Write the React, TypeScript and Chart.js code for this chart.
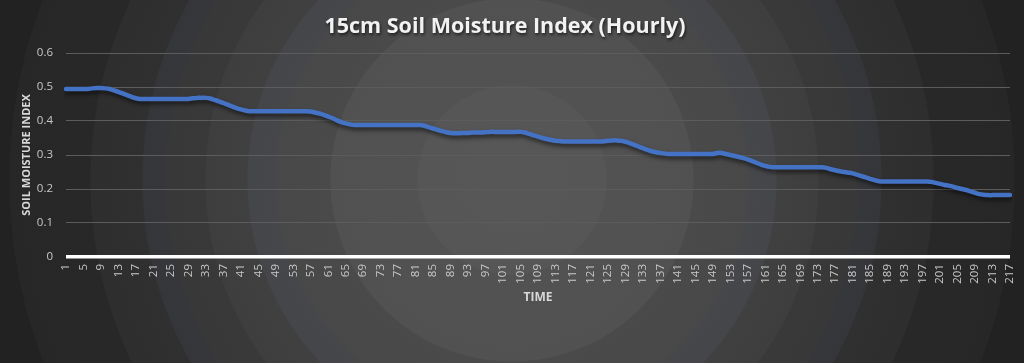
import React, { useEffect, useRef } from "react";
import { Chart, registerables } from "chart.js";

Chart.register(...registerables);

const chartTitle = "15cm Soil Moisture Index (Hourly)";
const xAxisTitle = "TIME";
const yAxisTitle = "SOIL MOISTURE INDEX";

// hourly categories 1..217
const hours: string[] = Array.from({ length: 217 }, (_, i) => String(i + 1));

// soil moisture index
const moisture: number[] = [
  0.494, 0.494, 0.494, 0.494, 0.494, 0.494, 0.496, 0.497, 0.497, 0.496,
  0.494, 0.49, 0.486, 0.481, 0.476, 0.471, 0.467, 0.465, 0.465, 0.465,
  0.465, 0.465, 0.465, 0.465, 0.465, 0.465, 0.465, 0.465, 0.465, 0.467,
  0.468, 0.468, 0.468, 0.466, 0.462, 0.458, 0.453, 0.448, 0.443, 0.438,
  0.434, 0.431, 0.429, 0.429, 0.429, 0.429, 0.429, 0.429, 0.429, 0.429,
  0.429, 0.429, 0.429, 0.429, 0.429, 0.429, 0.428, 0.425, 0.422, 0.418,
  0.413, 0.408, 0.402, 0.397, 0.393, 0.39, 0.388, 0.388, 0.388, 0.388,
  0.388, 0.388, 0.388, 0.388, 0.388, 0.388, 0.388, 0.388, 0.388, 0.388,
  0.388, 0.388, 0.386, 0.382, 0.378, 0.374, 0.37, 0.367, 0.365, 0.364,
  0.364, 0.365, 0.365, 0.366, 0.366, 0.366, 0.367, 0.368, 0.368, 0.368,
  0.368, 0.368, 0.368, 0.368, 0.368, 0.366, 0.362, 0.358, 0.354, 0.35,
  0.347, 0.344, 0.342, 0.341, 0.34, 0.34, 0.34, 0.34, 0.34, 0.34,
  0.34, 0.34, 0.34, 0.34, 0.342, 0.343, 0.343, 0.342, 0.339, 0.335,
  0.33, 0.325, 0.32, 0.315, 0.311, 0.308, 0.306, 0.304, 0.303, 0.303,
  0.303, 0.303, 0.303, 0.303, 0.303, 0.303, 0.303, 0.303, 0.303, 0.306,
  0.306, 0.303, 0.3, 0.297, 0.294, 0.291, 0.287, 0.282, 0.277, 0.272,
  0.268, 0.265, 0.264, 0.264, 0.264, 0.264, 0.264, 0.264, 0.264, 0.264,
  0.264, 0.264, 0.264, 0.264, 0.262, 0.258, 0.255, 0.252, 0.25, 0.248,
  0.246, 0.242, 0.238, 0.234, 0.23, 0.226, 0.223, 0.222, 0.222, 0.222,
  0.222, 0.222, 0.222, 0.222, 0.222, 0.222, 0.222, 0.222, 0.221, 0.218,
  0.215, 0.212, 0.21, 0.207, 0.203, 0.2, 0.197, 0.193, 0.189, 0.185,
  0.183, 0.182, 0.182, 0.182, 0.182, 0.182, 0.182,
];

const yTicks: number[] = [0, 0.1, 0.2, 0.3, 0.4, 0.5, 0.6];
const labelEvery = 4;

const background =
  "radial-gradient(circle at 512px 180px, #575757 0px, #565656 94px, #525252 95px, #515151 181px, #4a4a4a 182px, #484848 236px, #46474b 237px, #45464a 264px, #404040 265px, #3e3e3e 306px, #393939 307px, #383838 346px, #36373b 347px, #35363a 369px, #303030 370px, #2e2e2e 421px, #282828 422px, #272727 502px, #222222 503px)";

const shadowPlugin = {
  id: "lineShadow",
  beforeDraw(chart: any) {
    const tb = chart.titleBlock;
    if (tb && !tb.__shadowed) {
      const orig = tb.draw.bind(tb);
      tb.draw = (...args: any[]) => {
        const ctx = chart.ctx;
        ctx.save();
        ctx.shadowColor = "rgba(0,0,0,0.6)";
        ctx.shadowBlur = 3;
        ctx.shadowOffsetX = 1;
        ctx.shadowOffsetY = 1.5;
        orig(...args);
        ctx.restore();
      };
      tb.__shadowed = true;
    }
  },
  beforeDatasetDraw(chart: any) {
    const ctx = chart.ctx;
    ctx.save();
    ctx.shadowColor = "rgba(0,0,0,0.55)";
    ctx.shadowBlur = 4;
    ctx.shadowOffsetX = 1;
    ctx.shadowOffsetY = 3;
  },
  afterDatasetDraw(chart: any) {
    chart.ctx.restore();
  },
};

export default function App() {
  const ref = useRef<HTMLCanvasElement | null>(null);

  useEffect(() => {
    document.body.style.margin = "0";
    if (!ref.current) return;
    const chart = new Chart(ref.current, {
      type: "line",
      data: {
        labels: hours,
        datasets: [
          {
            label: "Soil Moisture Index",
            data: moisture,
            borderColor: "#4472C4",
            borderWidth: 4.5,
            pointRadius: 0,
            tension: 0.2,
            fill: false,
            borderCapStyle: "round",
            borderJoinStyle: "round",
          },
        ],
      },
      plugins: [shadowPlugin],
      options: {
        animation: false,
        responsive: false,
        devicePixelRatio: 1,
        layout: { padding: { left: 0, right: 14, top: 0, bottom: 0 } },
        plugins: {
          legend: { display: false },
          tooltip: { enabled: false },
          title: {
            display: true,
            text: chartTitle,
            color: "#f2f2f2",
            font: { family: "'Open Sans', sans-serif", size: 21.5, weight: "bold" },
            padding: { top: 14.2, bottom: 13.0 },
          },
        },
        scales: {
          x: {
            type: "category",
            offset: false,
            grid: { display: false, drawTicks: false },
            border: { display: false },
            ticks: {
              autoSkip: false,
              maxRotation: 90,
              minRotation: 90,
              padding: 7,
              color: "#c8c8c8",
              font: { family: "'Open Sans', sans-serif", size: 11.5 },
              callback: (_v: any, i: number) => (i % labelEvery === 0 ? hours[i] : ""),
            },
            title: {
              display: true,
              text: xAxisTitle,
              color: "#d9d9d9",
              font: { family: "'Open Sans', sans-serif", size: 12, weight: "bold" },
              padding: { top: 4, bottom: 57.8 },
            },
            afterFit: (s: any) => {
              s.height = 106;
              s.paddingLeft = 0;
              s.paddingRight = 0;
            },
          },
          y: {
            min: 0,
            max: 0.6,
            afterBuildTicks: (s: any) => {
              s.ticks = yTicks.map((v) => ({ value: v }));
            },
            grid: {
              drawTicks: false,
              color: (c: any) => (c.tick && c.tick.value === 0 ? "#ffffff" : "#5c5c5c"),
              lineWidth: (c: any) => (c.tick && c.tick.value === 0 ? 3.5 : 1),
            },
            border: { display: false },
            ticks: {
              padding: 13,
              color: "#c8c8c8",
              font: { family: "'Open Sans', sans-serif", size: 11.5 },
              callback: (v: any) => (Number(v) === 0 ? "0" : Number(v).toFixed(1)),
            },
            title: {
              display: true,
              text: yAxisTitle,
              color: "#d9d9d9",
              font: { family: "'Open Sans', sans-serif", size: 11, weight: "bold" },
              padding: { top: 20.5, bottom: 0 },
            },
            afterFit: (s: any) => {
              s.width = 66;
            },
          },
        },
      },
    });
    return () => chart.destroy();
  }, []);

  return (
    <div
      style={{
        position: "fixed",
        left: 0,
        top: 0,
        width: 1024,
        height: 363,
        background,
        overflow: "hidden",
      }}
    >
      <canvas ref={ref} width={1024} height={363} style={{ display: "block" }} />
    </div>
  );
}
